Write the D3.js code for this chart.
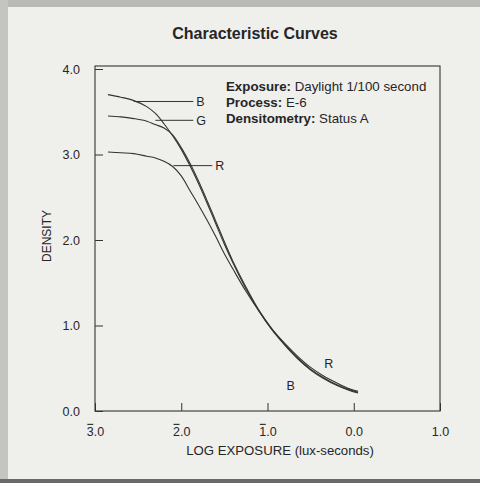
<!DOCTYPE html>
<html>
<head>
<meta charset="utf-8">
<script src="https://cdn.jsdelivr.net/npm/d3@7"></script>
<style>
  html, body { margin: 0; padding: 0; background: #efefec; }
  svg { display: block; font-family: "Liberation Sans", Arial, sans-serif; }
</style>
</head>
<body>
<svg width="480" height="483"></svg>
<script>
const logE = [-2.85, -2.7, -2.55, -2.4, -2.3, -2.2, -2.1, -2.0, -1.9, -1.8, -1.7, -1.6, -1.5, -1.4, -1.25, -1.1, -0.95, -0.8, -0.65, -0.5, -0.35, -0.2, -0.05, 0.05]
const densB = [3.70, 3.67, 3.63, 3.56, 3.48, 3.36, 3.22, 3.06, 2.87, 2.66, 2.43, 2.19, 1.95, 1.73, 1.43, 1.17, 0.95, 0.77, 0.61, 0.48, 0.38, 0.30, 0.24, 0.21]
const densG = [3.45, 3.44, 3.42, 3.39, 3.35, 3.31, 3.23, 3.08, 2.90, 2.69, 2.46, 2.22, 1.98, 1.75, 1.45, 1.18, 0.96, 0.78, 0.62, 0.49, 0.39, 0.31, 0.25, 0.22]
const densR = [3.03, 3.02, 3.01, 2.98, 2.96, 2.92, 2.86, 2.75, 2.58, 2.41, 2.23, 2.04, 1.84, 1.66, 1.40, 1.17, 0.96, 0.79, 0.64, 0.51, 0.41, 0.33, 0.26, 0.23]

const xTicks = [-3, -2, -1, 0, 1]
const xTickLabels = ["3.0", "2.0", "1.0", "0.0", "1.0"]
const xTickBar = [true, true, true, false, false]   // bar (negative characteristic) over the first digit
const yTicks = [0, 1, 2, 3, 4]
const yTickLabels = ["0.0", "1.0", "2.0", "3.0", "4.0"]

// leader lines for the curve names: [name, from logE, to logE, density]
const leaders = [["B", -2.55, -1.86, 3.62], ["G", -2.30, -1.86, 3.40], ["R", -2.09, -1.64, 2.87]]
// names written near the toe
const toeLabels = [["R", -0.29, 0.56], ["B", -0.73, 0.30]]

const notes = [["Exposure:", " Daylight 1/100 second"], ["Process:", " E-6"], ["Densitometry:", " Status A"]]

const svg = d3.select("svg")
const ink = "#262626"

// scanned page edges
svg.append("rect").attr("x", 0).attr("y", 0).attr("width", 480).attr("height", 7).attr("fill", "#b9b9b6")
svg.append("rect").attr("x", 0).attr("y", 0).attr("width", 8).attr("height", 483).attr("fill", "#c4c4c1")
svg.append("rect").attr("x", 0).attr("y", 479).attr("width", 480).attr("height", 4).attr("fill", "#6a6a68")

const x = d3.scaleLinear().domain([-3, 1]).range([95, 440])
const y = d3.scaleLinear().domain([0, 4]).range([411, 69])

svg.append("text")
  .attr("x", 255).attr("y", 39)
  .attr("text-anchor", "middle")
  .attr("font-size", 16).attr("font-weight", "bold")
  .attr("fill", ink)
  .text("Characteristic Curves")

// frame
svg.append("rect")
  .attr("x", x(-3)).attr("y", y(4) - 3)
  .attr("width", x(1) - x(-3)).attr("height", y(0) - y(4) + 3)
  .attr("fill", "none").attr("stroke", "#333").attr("stroke-width", 1.1)

const xAxis = svg.append("g")
  .attr("transform", `translate(0, ${y(0)})`)
  .call(d3.axisBottom(x).tickValues(xTicks).tickSizeInner(-8).tickSizeOuter(0).tickPadding(16)
    .tickFormat((d, i) => xTickLabels[i]))
xAxis.select(".domain").remove()
xAxis.selectAll("line").attr("stroke", "#333")
xAxis.selectAll("text").attr("font-size", 12.5).attr("fill", ink)
xAxis.selectAll(".tick").each(function(d, i) {
  if (!xTickBar[i]) return
  const t = d3.select(this).select("text").node()
  const b = t.getExtentOfChar(0)
  d3.select(this).append("line")
    .attr("x1", b.x + 0.5).attr("x2", b.x + b.width - 0.5)
    .attr("y1", b.y - 0.5).attr("y2", b.y - 0.5)
    .attr("stroke", ink).attr("stroke-width", 1.1)
})

const yAxis = svg.append("g")
  .attr("transform", `translate(${x(-3)}, 0)`)
  .call(d3.axisLeft(y).tickValues(yTicks).tickSizeInner(-8).tickSizeOuter(0).tickPadding(15)
    .tickFormat((d, i) => yTickLabels[i]))
yAxis.select(".domain").remove()
yAxis.selectAll("line").attr("stroke", "#333")
yAxis.selectAll("text").attr("font-size", 12.5).attr("fill", ink)

svg.append("text")
  .attr("transform", `translate(51, 236) rotate(-90)`)
  .attr("text-anchor", "middle")
  .attr("font-size", 12).attr("fill", ink)
  .text("DENSITY")

svg.append("text")
  .attr("x", 280).attr("y", 455)
  .attr("text-anchor", "middle")
  .attr("font-size", 13.2).attr("fill", ink)
  .text("LOG EXPOSURE (lux-seconds)")

const line = d3.line()
  .x(d => x(d[0]))
  .y(d => y(d[1]))
  .curve(d3.curveCatmullRom.alpha(0.5))

const series = [densB, densG, densR]
svg.append("g")
  .selectAll("path")
  .data(series)
  .join("path")
  .attr("d", s => line(logE.map((e, i) => [e, s[i]])))
  .attr("fill", "none")
  .attr("stroke", "#333")
  .attr("stroke-width", 1.1)

const lead = svg.append("g")
lead.selectAll("line")
  .data(leaders)
  .join("line")
  .attr("x1", d => x(d[1])).attr("x2", d => x(d[2]))
  .attr("y1", d => y(d[3])).attr("y2", d => y(d[3]))
  .attr("stroke", "#333").attr("stroke-width", 1)
lead.selectAll("text")
  .data(leaders)
  .join("text")
  .attr("x", d => x(d[2]) + 3)
  .attr("y", d => y(d[3]) + 4.5)
  .attr("font-size", 12.5).attr("fill", ink)
  .text(d => d[0])

svg.append("g")
  .selectAll("text")
  .data(toeLabels)
  .join("text")
  .attr("x", d => x(d[1]))
  .attr("y", d => y(d[2]) + 4.5)
  .attr("text-anchor", "middle")
  .attr("font-size", 12.5).attr("fill", ink)
  .text(d => d[0])

const noteText = svg.append("g")
  .selectAll("text")
  .data(notes)
  .join("text")
  .attr("x", 226)
  .attr("y", (d, i) => 91 + i * 16)
  .attr("font-size", 13.3).attr("fill", ink)
noteText.append("tspan").attr("font-weight", "bold").text(d => d[0])
noteText.append("tspan").text(d => d[1])
</script>
</body>
</html>
